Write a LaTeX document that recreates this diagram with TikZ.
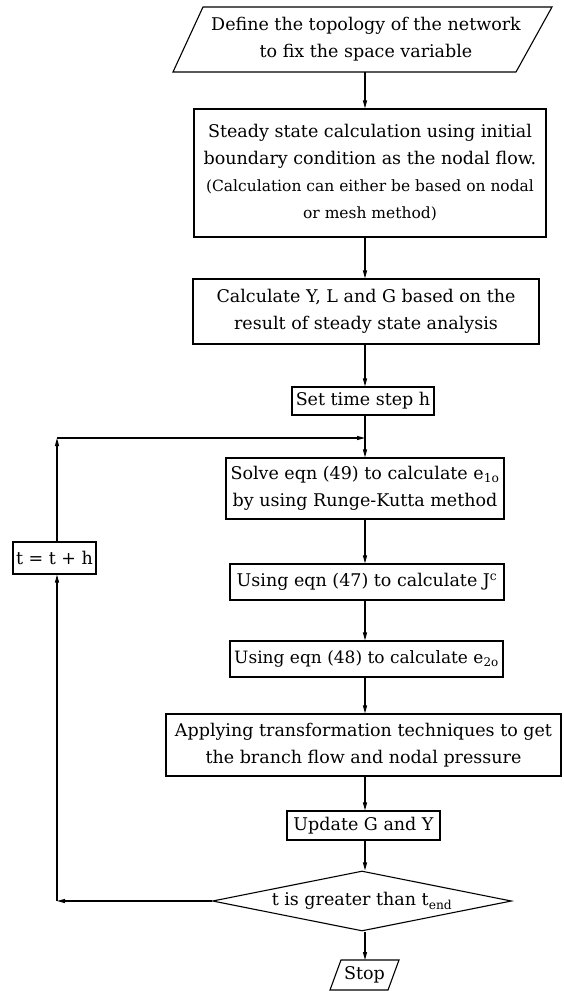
\documentclass[tikz,border=0pt]{standalone}
\usepackage{fontspec}
\setmainfont{DejaVu Serif}
\usetikzlibrary{arrows.meta,shapes.geometric,calc}
\newcommand{\smallfnt}{\fontsize{15.5}{27}\selectfont}
\begin{document}
\begin{tikzpicture}[x=1pt,y=-1pt,
  every node/.style={font=\fontsize{17.5}{27}\selectfont},
  box/.style={draw, line width=1.1pt, rectangle, align=center, inner sep=0pt},
  plain/.style={align=center, inner sep=0pt},
  arr/.style={line width=1.1pt, -{Triangle[length=8pt,width=4pt]}},
  ln/.style={line width=1.1pt}]
\useasboundingbox (0,0) rectangle (563,991);
\coordinate (spine) at (365,0);
% input parallelogram
\coordinate (p1) at (203,7);
\coordinate (p2) at (552,7);
\coordinate (p3) at (516,72);
\coordinate (p4) at (173,72);
\draw[ln] (p1) -- (p2) -- (p3) -- (p4) -- cycle;
\node[plain] (topo) at (366,39.5) {Define the topology of the network\\to fix the space variable};
\coordinate (topo-s) at (365,72);
% boxes
\node[box, minimum width=352, minimum height=128] (steady) at (370,173)
  {Steady state calculation using initial\\boundary condition as the nodal flow.\\
   \smallfnt (Calculation can either be based on nodal\\\smallfnt or mesh method)};
\node[box, minimum width=346, minimum height=65] (calc) at (366,311.5)
  {Calculate Y, L and G based on the\\result of steady state analysis};
\node[box, minimum width=142, minimum height=28] (set) at (363,401) {Set time step h};
\node[box, minimum width=278, minimum height=61] (solve) at (365,488.5)
  {Solve eqn (49) to calculate e\textsubscript{1o}\\by using Runge-Kutta method};
\node[box, minimum width=83, minimum height=32] (tbox) at (54.5,558) {t = t + h};
\node[box, minimum width=274, minimum height=36] (j47) at (367,582)
  {Using eqn (47) to calculate J\textsuperscript{c}};
\node[box, minimum width=273, minimum height=36, font=\fontsize{17}{27}\selectfont] (e48) at (366.5,659)
  {Using eqn (48) to calculate e\textsubscript{2o}};
\node[box, minimum width=395, minimum height=62] (apply) at (363.5,745)
  {Applying transformation techniques to get\\the branch flow and nodal pressure};
\node[box, minimum width=153, minimum height=29] (update) at (363.5,825.5) {Update G and Y};
\node[box, diamond, aspect=5, minimum width=299, minimum height=60] (dec) at (362,901)
  {t is greater than t\textsubscript{end}};
% stop parallelogram
\coordinate (s1) at (341,960);
\coordinate (s2) at (399,960);
\coordinate (s3) at (388,990);
\coordinate (s4) at (330,990);
\draw[ln] (s1) -- (s2) -- (s3) -- (s4) -- cycle;
\node[plain] (stop) at (364.5,975) {Stop};
\coordinate (stop-n) at (365,960);
% main flow
\draw[arr] (topo-s) -- (steady.north -| spine);
\draw[arr] (steady.south -| spine) -- (calc.north -| spine);
\draw[arr] (calc.south -| spine) -- (set.north -| spine);
\draw[arr] (set.south -| spine) -- (solve.north -| spine);
\draw[arr] (solve.south -| spine) -- (j47.north -| spine);
\draw[arr] (j47.south -| spine) -- (e48.north -| spine);
\draw[arr] (e48.south -| spine) -- (apply.north -| spine);
\draw[arr] (apply.south -| spine) -- (update.north -| spine);
\draw[arr] (update.south -| spine) -- (dec.north -| spine);
\draw[arr] (dec.south -| spine) -- (stop-n);
% loop
\coordinate (ld) at (57,901);
\coordinate (lc) at (57,438);
\draw[arr] (dec.west) -- (ld);
\draw[arr] (ld) -- (tbox.south -| ld);
\draw[arr] (tbox.north -| lc) -- (lc);
\draw[arr] (lc) -- (lc -| spine);
\end{tikzpicture}
\end{document}
